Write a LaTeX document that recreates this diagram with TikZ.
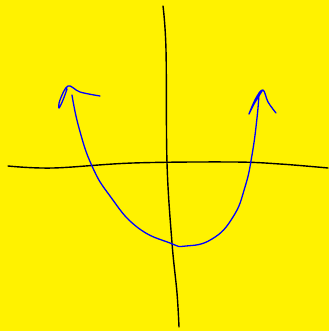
\documentclass[tikz,border=0pt]{standalone}
\begin{document}
\begin{tikzpicture}[x=1pt,y=-1pt,
  axis/.style={black,line width=1.4pt,line cap=round,line join=round},
  curve/.style={blue,line width=1.3pt,line cap=round,line join=round}]
\fill[yellow] (0,0) rectangle (329,331);
\useasboundingbox (0,0) rectangle (329,331);
% vertical axis
\draw[axis] plot[smooth,tension=0.6] coordinates {(163,6) (166,50) (167,163) (172,243) (177,293) (179,327)};
% horizontal axis
\draw[axis] plot[smooth,tension=0.6] coordinates {(8,166) (53,168) (133,163) (233,162) (280,164) (328,168)};
% parabola
\draw[curve] plot[smooth,tension=0.8] coordinates {(72,95) (79,128) (92,166) (110,196) (137,227) (170,243) (186,246) (212,239) (233,217) (245,187) (252,155) (257,118) (259,93)};
% left arrowhead
\draw[curve] plot[smooth,tension=0.6] coordinates {(100,96) (80,92) (68,86) (60,100) (59,108) (63,100) (67,89)};
% right arrowhead
\draw[curve] plot[smooth,tension=0.6] coordinates {(276,113) (268,102) (263,90) (256,98) (249,114) (254,104) (262,91)};
\end{tikzpicture}
\end{document}
